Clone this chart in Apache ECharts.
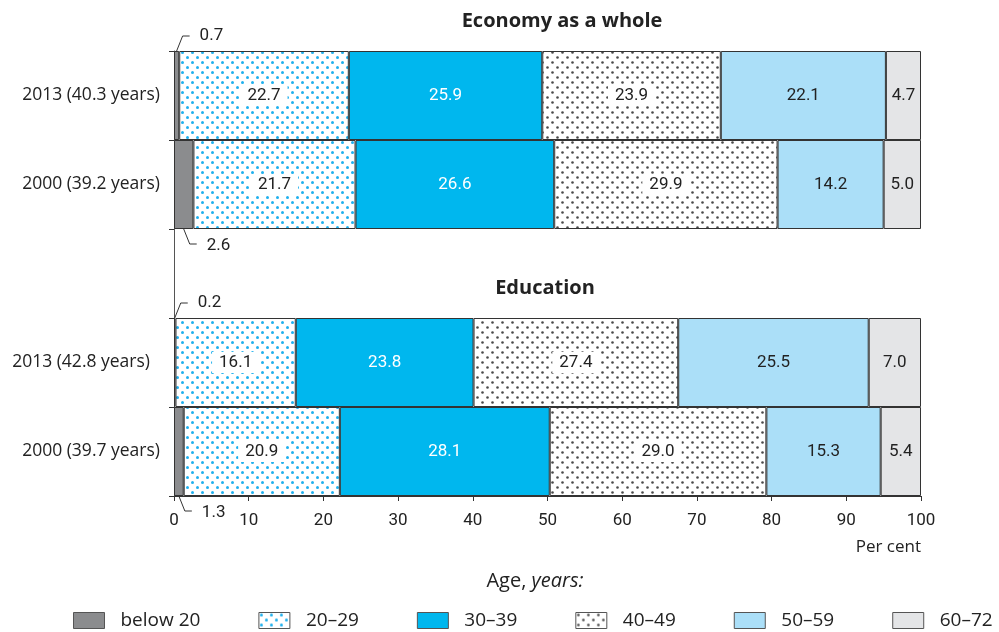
<!DOCTYPE html>
<html>
<head>
<meta charset="utf-8">
<script src="https://cdn.jsdelivr.net/npm/echarts@6/dist/echarts.min.js"></script>
<style>html,body{margin:0;padding:0;background:#fff}#c{width:999px;height:632px}</style>
</head>
<body>
<div id="c"></div>
<script>
// ---- data ----
const economyRows = ['2013 (40.3 years)', '2000 (39.2 years)'];
const educationRows = ['2013 (42.8 years)', '2000 (39.7 years)'];
const ageGroups = ['below 20', '20\u201329', '30\u201339', '40\u201349', '50\u201359', '60\u201372'];
// values per age group: [economy 2013, economy 2000]
const economyBelow20 = [0.7, 2.6];
const economy20_29 = [22.7, 21.7];
const economy30_39 = [25.9, 26.6];
const economy40_49 = [23.9, 29.9];
const economy50_59 = [22.1, 14.2];
const economy60_72 = [4.7, 5.0];
// values per age group: [education 2013, education 2000]
const educationBelow20 = [0.2, 1.3];
const education20_29 = [16.1, 20.9];
const education30_39 = [23.8, 28.1];
const education40_49 = [27.4, 29.0];
const education50_59 = [25.5, 15.3];
const education60_72 = [7.0, 5.4];
const xTicks = [0, 10, 20, 30, 40, 50, 60, 70, 80, 90, 100];

// ---- build ----
const categories = economyRows.concat([''], educationRows);
const join = (a, b) => a.concat([null], b);
const groupValues = [
  join(economyBelow20, educationBelow20),
  join(economy20_29, education20_29),
  join(economy30_39, education30_39),
  join(economy40_49, education40_49),
  join(economy50_59, education50_59),
  join(economy60_72, education60_72)
];

function dotPattern(dot, r) {
  const cv = document.createElement('canvas');
  cv.width = 10; cv.height = 10;
  const g = cv.getContext('2d');
  g.fillStyle = '#ffffff'; g.fillRect(0, 0, 10, 10);
  g.fillStyle = dot;
  [[2.5, 2.5], [7.5, 7.5]].forEach(p => { g.beginPath(); g.arc(p[0], p[1], r, 0, Math.PI * 2); g.fill(); });
  return { image: cv, repeat: 'repeat' };
}
const fills = ['#8b8c8e', dotPattern('#1fb0ee', 1.5), '#00b7ee', dotPattern('#4a4a4a', 1.3), '#abdff8', '#e4e5e7'];
const labelColors = [null, '#222', '#ffffff', '#222', '#222', '#222'];
const labelBg = [null, '#ffffff', 'transparent', '#ffffff', 'transparent', 'transparent'];
const NUM_FONT = 'Roboto, "Liberation Sans", sans-serif';
const TXT_FONT = '"Open Sans", "Noto Sans", sans-serif';

const series = ageGroups.map((name, i) => ({
  name: name,
  type: 'bar',
  stack: 'all',
  barWidth: '100%',
  data: groupValues[i],
  itemStyle: { color: fills[i], borderColor: '#333', borderWidth: 1 },
  emphasis: { disabled: true },
  label: i === 0 ? { show: false } : {
    show: true,
    position: 'inside',
    formatter: p => p.value == null ? '' : p.value.toFixed(1),
    color: labelColors[i],
    fontFamily: NUM_FONT,
    fontSize: 17,
    backgroundColor: labelBg[i],
    padding: [2, 7]
  }
}));

// leader labels for the small "below 20" segments
const smallData = [];
groupValues[0].forEach((v, idx) => { if (v != null) smallData.push([v, idx]); });
series.push({
  type: 'custom',
  silent: true,
  z: 10,
  data: smallData,
  renderItem: function (params, api) {
    const v = api.value(0), c = api.value(1);
    const cat = categories[c];
    const dir = cat.indexOf('2013') === 0 ? -1 : 1;
    const p = api.coord([v / 2, c]);
    const band = api.size([0, 1])[1];
    const x0 = p[0], y0 = p[1] + dir * band / 2;
    const y1 = y0 + dir * 15;
    return {
      type: 'group',
      children: [
        { type: 'polyline', shape: { points: [[x0, y0], [x0 + 6, y1], [x0 + 13, y1]] },
          style: { stroke: '#333', lineWidth: 1, fill: null } },
        { type: 'text', x: x0 + 23, y: y1 + (dir < 0 ? 0 : 2),
          style: { text: v.toFixed(1), fill: '#222', font: '17px ' + NUM_FONT, verticalAlign: 'middle', align: 'left' } }
      ]
    };
  }
});

const chart = echarts.init(document.getElementById('c'), null, { renderer: 'canvas' });
chart.setOption({
  animation: false,
  backgroundColor: '#fff',
  title: [
    { text: 'Economy as a whole', left: 557, top: 6, textAlign: 'center',
      textStyle: { fontFamily: TXT_FONT, fontWeight: 'bold', fontSize: 20, color: '#222' } },
    { text: 'Education', left: 540, top: 273, textAlign: 'center',
      textStyle: { fontFamily: TXT_FONT, fontWeight: 'bold', fontSize: 20, color: '#222' } },
    { text: '{a|Age, }{b|years:}', left: 530, top: 566, textAlign: 'center',
      textStyle: { fontWeight: 'normal', rich: {
        a: { fontFamily: TXT_FONT, fontSize: 20, fontWeight: 'normal', color: '#222' },
        b: { fontFamily: TXT_FONT, fontSize: 20, fontWeight: 'normal', fontStyle: 'italic', color: '#222' } } } },
    { text: 'Per cent', right: 73, top: 534,
      textStyle: { fontFamily: TXT_FONT, fontWeight: 'normal', fontSize: 17, color: '#222' } }
  ],
  legend: {
    data: ageGroups,
    left: 73, top: 611, width: 926, padding: 0,
    itemWidth: 31, itemHeight: 16, itemGap: 58,
    icon: 'rect',
    itemStyle: { borderColor: '#555', borderWidth: 1 },
    textStyle: { fontFamily: TXT_FONT, fontSize: 19, color: '#222', padding: [0, 0, 0, 11] },
    selectedMode: false
  },
  grid: { left: 174, right: 78, top: 51, bottom: 136, containLabel: false },
  xAxis: {
    type: 'value', min: 0, max: 100, interval: 10,
    axisLine: { show: true, lineStyle: { color: '#333', width: 1 } },
    axisTick: { show: true, length: 5, lineStyle: { color: '#333' } },
    splitLine: { show: false },
    axisLabel: { fontFamily: NUM_FONT, fontSize: 17, color: '#222', margin: 16,
      formatter: v => xTicks.indexOf(v) >= 0 ? String(v) : '' }
  },
  yAxis: {
    type: 'category', inverse: true, data: categories,
    axisLine: { show: true, lineStyle: { color: '#555', width: 1 } },
    axisTick: { show: true, length: 5, lineStyle: { color: '#333' } },
    axisLabel: { fontFamily: TXT_FONT, fontSize: 17.5, color: '#222', margin: 14,
      formatter: (v, i) => v === educationRows[0] ? '{e|' + v + '}' : v,
      rich: { e: { fontFamily: TXT_FONT, fontSize: 17.5, color: '#222', padding: [0, 10, 0, 0] } } }
  },
  series: series
});
</script>
</body>
</html>
